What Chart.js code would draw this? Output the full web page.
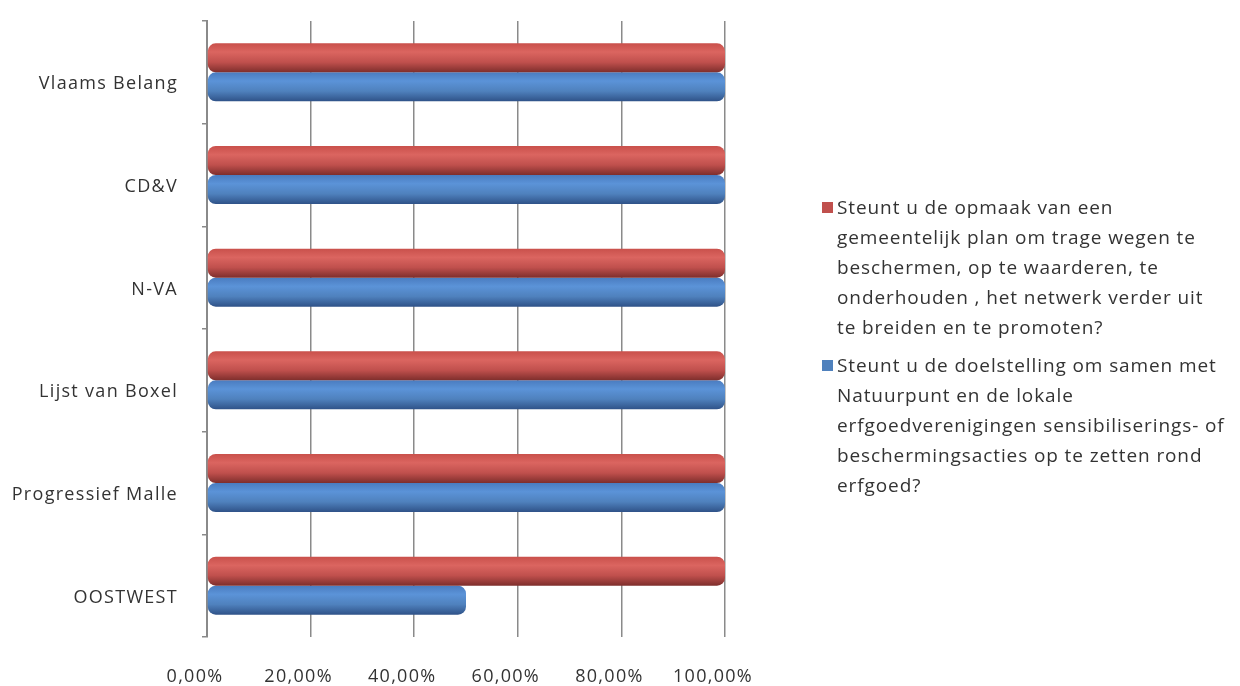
<!DOCTYPE html>
<html>
<head>
<meta charset="utf-8">
<script src="https://cdn.jsdelivr.net/npm/chart.js@4/dist/chart.umd.min.js"></script>
<style>
  html, body { margin: 0; padding: 0; background: #fff; }
  #wrap { position: relative; width: 1240px; height: 686px; }
  #c { position: absolute; left: 0; top: 0; }
  #legend { position: absolute; left: 820px; top: 192px; width: 420px;
    font-family: "Open Sans", sans-serif; font-size: 19px; letter-spacing: 0.9px; color: #333; line-height: 30px; }
  .item { position: relative; padding-left: 17px; margin-bottom: 8px; white-space: nowrap; }
  .sw { position: absolute; left: 2px; top: 10px; width: 11px; height: 11px; }
</style>
</head>
<body>
<div id="wrap">
  <canvas id="c" width="1240" height="686"></canvas>
  <div id="legend"></div>
</div>
<script>
const categories = ["Vlaams Belang", "CD&V", "N-VA", "Lijst van Boxel", "Progressief Malle", "OOSTWEST"];
const opmaakValues = [1.00, 1.00, 1.00, 1.00, 1.00, 1.00];
const doelstellingValues = [1.00, 1.00, 1.00, 1.00, 1.00, 0.50];
const xTicks = [0, 0.2, 0.4, 0.6, 0.8, 1.0];
const opmaakLabelLines = ["Steunt u de opmaak van een", "gemeentelijk plan om trage wegen te", "beschermen, op te waarderen, te", "onderhouden , het netwerk verder uit", "te breiden en te promoten?"];
const doelstellingLabelLines = ["Steunt u de doelstelling om samen met", "Natuurpunt en de lokale", "erfgoedverenigingen sensibiliserings- of", "beschermingsacties op te zetten rond", "erfgoed?"];

const CAT_PCT = 0.565;
const palettes = [
  { top: '#c9504b', mid: '#db6560', low: '#c0504d', bot: '#7e2e2c', flat: '#c0504d', legend: '#c0504d' },
  { top: '#4a7cc0', mid: '#5b93d8', low: '#4f81bd', bot: '#2f5288', flat: '#4f81bd', legend: '#4f81bd' }
];

function cylFill(ctx) {
  const chart = ctx.chart;
  const pal = palettes[ctx.datasetIndex];
  const ca = chart.chartArea;
  if (!ca || ctx.dataIndex === undefined) return pal.flat;
  const ys = chart.scales.y;
  const center = ys.getPixelForValue(ctx.dataIndex);
  const band = (ca.bottom - ca.top) / categories.length;
  const h = band * CAT_PCT / 2;
  const top = ctx.datasetIndex === 0 ? center - h : center;
  const g = chart.ctx.createLinearGradient(0, top, 0, top + h);
  g.addColorStop(0, pal.top);
  g.addColorStop(0.3, pal.mid);
  g.addColorStop(0.65, pal.low);
  g.addColorStop(1, pal.bot);
  return g;
}

const textColor = '#333333';
const font = { family: '"Open Sans", sans-serif', size: 18 };

const spacingPlugin = {
  id: 'letterSpacing',
  beforeDraw(chart) { chart.ctx.letterSpacing = '1.3px'; }
};

const chart = new Chart(document.getElementById('c'), {
  type: 'bar',
  data: {
    labels: categories,
    datasets: [
      { label: opmaakLabelLines.join(' '), data: opmaakValues, backgroundColor: cylFill,
        borderRadius: 8, borderSkipped: false, categoryPercentage: CAT_PCT, barPercentage: 1 },
      { label: doelstellingLabelLines.join(' '), data: doelstellingValues, backgroundColor: cylFill,
        borderRadius: 8, borderSkipped: false, categoryPercentage: CAT_PCT, barPercentage: 1 }
    ]
  },
  plugins: [spacingPlugin],
  options: {
    indexAxis: 'y',
    responsive: false,
    animation: false,
    devicePixelRatio: 1,
    layout: { padding: { left: 0, top: 21, right: 515, bottom: 0 } },
    plugins: { legend: { display: false }, tooltip: { enabled: false } },
    scales: {
      x: {
        min: 0, max: 1,
        afterBuildTicks: s => { s.ticks = xTicks.map(v => ({ value: v })); },
        afterFit: s => { s.height = 686 - 637; s.paddingLeft = 0; s.paddingRight = 0; },
        ticks: {
          color: textColor, font: font, padding: 29, labelOffset: -12,
          callback: v => (v * 100).toFixed(2).replace('.', ',') + '%'
        },
        grid: { color: '#8a8a8a', lineWidth: 1.5, drawTicks: false },
        border: { display: false }
      },
      y: {
        afterFit: s => { s.width = 207; s.paddingTop = 0; s.paddingBottom = 0; },
        ticks: { color: textColor, font: font, padding: 24, labelOffset: 12 },
        grid: { drawOnChartArea: false, drawTicks: true, tickLength: 5, color: '#8a8a8a', lineWidth: 1.5, offset: true },
        border: { display: true, color: '#8a8a8a', width: 2 }
      }
    }
  }
});

// HTML legend built from the chart's datasets
const legendLines = [opmaakLabelLines, doelstellingLabelLines];
const legendEl = document.getElementById('legend');
chart.data.datasets.forEach((ds, i) => {
  const item = document.createElement('div');
  item.className = 'item';
  const sw = document.createElement('span');
  sw.className = 'sw';
  sw.style.background = palettes[i].legend;
  item.appendChild(sw);
  legendLines[i].forEach((line, j) => {
    if (j) item.appendChild(document.createElement('br'));
    item.appendChild(document.createTextNode(line));
  });
  legendEl.appendChild(item);
});
</script>
</body>
</html>
